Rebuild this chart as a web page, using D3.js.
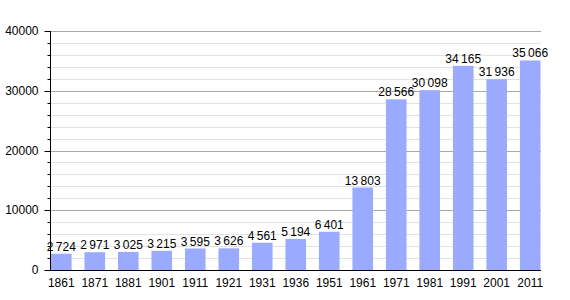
<!DOCTYPE html>
<html>
<head>
<meta charset="utf-8">
<script src="https://cdn.jsdelivr.net/npm/d3@7"></script>
<style>
  body { margin: 0; background: #fff; }
  svg text { font-family: "Liberation Sans", Arial, sans-serif; fill: #000; }
</style>
</head>
<body>
<div id="chart"></div>
<script>
// census years and population
const years = ["1861", "1871", "1881", "1901", "1911", "1921", "1931", "1936", "1951", "1961", "1971", "1981", "1991", "2001", "2011"];
const population = [2724, 2971, 3025, 3215, 3595, 3626, 4561, 5194, 6401, 13803, 28566, 30098, 34165, 31936, 35066];
const majorTicks = [0, 10000, 20000, 30000, 40000];
const minorTicks = d3.range(0, 40001, 2000);

const width = 570, height = 300;
const plot = {left: 50, right: 541, top: 31, bottom: 270};

const svg = d3.select("#chart").append("svg")
    .attr("width", width)
    .attr("height", height);

const x = d3.scaleBand()
    .domain(years)
    .range([plot.left + 1, plot.right - 0.5])
    .paddingInner(0.385)
    .paddingOuter(0);

const y = d3.scaleLinear()
    .domain([0, 40000])
    .range([plot.bottom, plot.top]);

const py = d => Math.round(y(d)) + 0.5;

// minor grid
svg.append("g")
    .selectAll("line")
    .data(minorTicks.filter(d => d % 10000 !== 0))
    .join("line")
    .attr("x1", plot.left).attr("x2", plot.right)
    .attr("y1", py).attr("y2", py)
    .attr("stroke", "#e2e2e2");

// major grid
svg.append("g")
    .selectAll("line")
    .data(majorTicks.filter(d => d > 0))
    .join("line")
    .attr("x1", plot.left).attr("x2", plot.right)
    .attr("y1", py).attr("y2", py)
    .attr("stroke", "#a8a8a8");

// bars
svg.append("g")
    .selectAll("rect")
    .data(population)
    .join("rect")
    .attr("x", (d, i) => x(years[i]))
    .attr("width", x.bandwidth())
    .attr("y", d => y(d))
    .attr("height", d => plot.bottom - y(d))
    .attr("fill", "#99aaff");

// value labels
const fmt = d3.formatLocale({decimal: ",", thousands: "\u2009", grouping: [3]}).format(",d");
svg.append("g")
    .selectAll("text")
    .data(population)
    .join("text")
    .attr("x", (d, i) => x(years[i]) + x.bandwidth() / 2)
    .attr("y", d => y(d) - 3)
    .attr("text-anchor", "middle")
    .style("font-size", "12px")
    .text(d => fmt(d));

// y axis
const yAxis = svg.append("g")
    .attr("transform", `translate(${plot.left + 0.5},0)`);
yAxis.selectAll(".minor")
    .data(minorTicks)
    .join("line")
    .attr("class", "minor")
    .attr("x1", -3).attr("x2", 0)
    .attr("y1", py).attr("y2", py)
    .attr("stroke", "#000");
yAxis.selectAll(".major")
    .data(majorTicks)
    .join("line")
    .attr("class", "major")
    .attr("x1", -6).attr("x2", 0)
    .attr("y1", py).attr("y2", py)
    .attr("stroke", "#000");
yAxis.append("line")
    .attr("y1", plot.top).attr("y2", plot.bottom)
    .attr("stroke", "#000");
yAxis.selectAll("text")
    .data(majorTicks)
    .join("text")
    .attr("x", -12)
    .attr("y", d => y(d))
    .attr("dy", "0.35em")
    .attr("text-anchor", "end")
    .style("font-size", "12px")
    .text(d => d);

// x axis
svg.append("line")
    .attr("x1", plot.left - 5).attr("x2", plot.right)
    .attr("y1", plot.bottom + 0.5).attr("y2", plot.bottom + 0.5)
    .attr("stroke", "#000");
svg.append("g")
    .selectAll("text")
    .data(years)
    .join("text")
    .attr("x", d => x(d) + x.bandwidth() / 2)
    .attr("y", plot.bottom + 13)
    .attr("dy", "0.35em")
    .attr("text-anchor", "middle")
    .style("font-size", "12px")
    .text(d => d);
</script>
</body>
</html>
